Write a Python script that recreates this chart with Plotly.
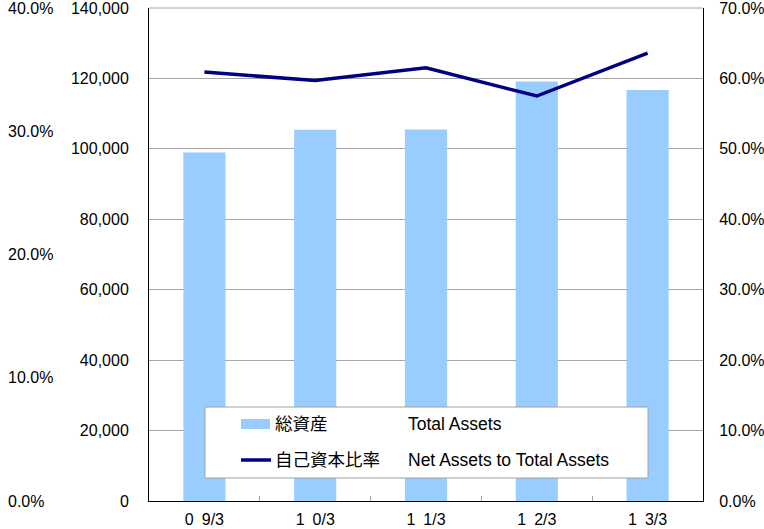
import plotly.graph_objects as go

# data
periods = ["0\u20029/3", "1\u20020/3", "1\u20021/3", "1\u20022/3", "1\u20023/3"]
total_assets = [99000, 105400, 105500, 119100, 116700]
equity_ratio = [60.9, 59.7, 61.5, 57.5, 63.6]

legend_jp = ["総資産", "自己資本比率"]
legend_en = ["Total Assets", "Net Assets to Total Assets"]

W, H = 764, 529
L, R, T, B = 0, 61, 8, 28
plot_w = W - L - R
plot_h = H - T - B


def px_x(x):
    return (x - L) / plot_w


def px_y(y):
    return (H - B - y) / plot_h


font = "Liberation Sans, Arial, Noto Sans CJK JP, sans-serif"

fig = go.Figure()

fig.add_trace(go.Bar(
    x=periods,
    y=total_assets,
    name=legend_jp[0],
    marker=dict(color="#99ccff", line=dict(width=0)),
    width=0.38,
))

fig.add_trace(go.Scatter(
    x=periods,
    y=equity_ratio,
    name=legend_jp[1],
    mode="lines",
    line=dict(color="#000080", width=3.5),
    yaxis="y2",
))

# empty trace so the outer left percent axis gets drawn
fig.add_trace(go.Scatter(
    x=periods, y=[None] * len(periods), yaxis="y3",
    mode="lines", showlegend=False, hoverinfo="skip",
))

# top gridline
fig.add_shape(
    type="line", xref="paper", yref="paper",
    x0=px_x(149), x1=1, y0=1, y1=1,
    line=dict(color="#a6a6a6", width=1), layer="below",
)

# legend frame + swatches
fig.add_shape(
    type="rect", xref="paper", yref="paper",
    x0=px_x(205), x1=px_x(648), y0=px_y(478), y1=px_y(407),
    fillcolor="white", line=dict(color="#a0a0a0", width=1), layer="above",
)
fig.add_shape(
    type="rect", xref="paper", yref="paper",
    x0=px_x(241), x1=px_x(270), y0=px_y(429), y1=px_y(419),
    fillcolor="#99ccff", line=dict(width=0), layer="above",
)
fig.add_shape(
    type="line", xref="paper", yref="paper",
    x0=px_x(241), x1=px_x(271), y0=px_y(460), y1=px_y(460),
    line=dict(color="#000080", width=3.5), layer="above",
)

for jp, en, yy in zip(legend_jp, legend_en, [424, 460]):
    fig.add_annotation(
        text=jp, xref="paper", yref="paper",
        x=px_x(273), y=px_y(yy), xanchor="left", yanchor="middle",
        showarrow=False, font=dict(size=17.5, color="#000000", family=font),
    )
    fig.add_annotation(
        text=en, xref="paper", yref="paper",
        x=px_x(406), y=px_y(yy), xanchor="left", yanchor="middle",
        showarrow=False, font=dict(size=17.5, color="#000000", family=font),
    )

fig.update_layout(
    width=W, height=H,
    autosize=False,
    margin=dict(l=L, r=R, t=T, b=B),
    paper_bgcolor="white",
    plot_bgcolor="white",
    font=dict(family=font, size=16, color="#000000"),
    showlegend=False,
    xaxis=dict(
        type="category", automargin=False,
        domain=[px_x(149), 1],
        showline=True, linecolor="#000000", linewidth=1,
        ticks="inside", tickson="boundaries", ticklen=5, tickcolor="#a0a0a0",
        ticklabelstandoff=4, ticklabeloverflow="allow",
        tickfont=dict(size=16),
        showgrid=False,
    ),
    yaxis=dict(
        range=[0, 140000], dtick=20000, tickformat=",", automargin=False,
        showline=True, linecolor="#000000", linewidth=1,
        showgrid=True, gridcolor="#a6a6a6", gridwidth=1,
        zeroline=False,
        ticks="", ticklabelstandoff=16, ticklabeloverflow="allow",
    ),
    yaxis2=dict(
        range=[0, 70], dtick=10, tickformat=".1f", ticksuffix="%",
        overlaying="y", side="right", anchor="x", automargin=False,
        showline=True, linecolor="#000000", linewidth=1,
        showgrid=False, zeroline=False,
        ticks="", ticklabelstandoff=12, ticklabeloverflow="allow",
    ),
    yaxis3=dict(
        range=[0, 40], dtick=10, tickformat=".1f", ticksuffix="%",
        overlaying="y", side="right", anchor="free", position=0,
        automargin=False,
        showline=False, showgrid=False, zeroline=False,
        ticks="", ticklabelstandoff=7, ticklabeloverflow="allow",
    ),
)

fig.write_html(
    "out.html",
    config={"displayModeBar": False},
    post_script="document.body.style.margin='0';",
)
